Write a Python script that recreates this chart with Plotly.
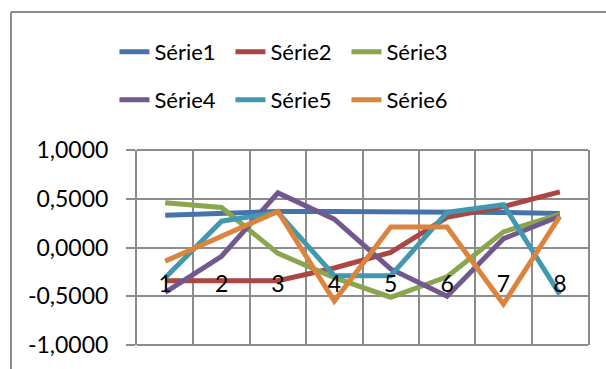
import plotly.graph_objects as go

categories = [1, 2, 3, 4, 5, 6, 7, 8]
cat_labels = ["1", "2", "3", "4", "5", "6", "7", "8"]
serie1 = [0.33, 0.35, 0.37, 0.37, 0.37, 0.37, 0.36, 0.35]
serie2 = [-0.34, -0.34, -0.34, -0.21, -0.05, 0.31, 0.42, 0.57]
serie3 = [0.46, 0.41, -0.06, -0.31, -0.51, -0.30, 0.16, 0.34]
serie4 = [-0.46, -0.09, 0.56, 0.29, -0.22, -0.50, 0.09, 0.32]
serie5 = [-0.31, 0.27, 0.36, -0.29, -0.29, 0.36, 0.44, -0.48]
serie6 = [-0.14, 0.12, 0.37, -0.55, 0.21, 0.21, -0.58, 0.32]
names = ["Série1", "Série2", "Série3", "Série4", "Série5", "Série6"]
y_tickvals = [-1.0, -0.5, 0.0, 0.5, 1.0]
y_ticktext = ["-1,0000", "-0,5000", "0,0000", "0,5000", "1,0000"]

colors = ["#4674AA", "#AA4643", "#89A54E", "#71588F", "#4198AF", "#DB843D"]
series = [serie1, serie2, serie3, serie4, serie5, serie6]

FONT = "Lato"
GRID = "#8C8C8C"

fig = go.Figure()
for i, (nm, vals) in enumerate(zip(names, series)):
    fig.add_trace(go.Scatter(
        x=categories, y=vals, mode="lines", name=nm,
        line=dict(color=colors[i], width=5),
        legend="legend" if i < 3 else "legend2",
    ))

boundaries = [c - 0.5 for c in categories] + [categories[-1] + 0.5]

legend_common = dict(orientation="h", xanchor="left", yanchor="middle",
                     font=dict(family=FONT, size=22), entrywidth=71,
                     entrywidthmode="pixels", itemwidth=30,
                     bgcolor="rgba(0,0,0,0)")

fig.update_layout(
    width=606, height=369,
    margin=dict(l=137, r=18, t=150, b=24),
    paper_bgcolor="white", plot_bgcolor="white",
    font=dict(family=FONT, size=22, color="black"),
    showlegend=True,
    legend=dict(x=-0.05, y=1.5026, **legend_common),
    legend2=dict(x=-0.05, y=1.2564, **legend_common),
    xaxis=dict(
        range=[0.5, 8.5], tickvals=categories, ticktext=cat_labels,
        showgrid=False, zeroline=False, showline=False, ticks="",
        anchor="free", position=0.395,
        tickfont=dict(family=FONT, size=23),
        minor=dict(tickvals=boundaries, showgrid=True, gridcolor=GRID, gridwidth=2),
        fixedrange=True,
    ),
    yaxis=dict(
        range=[-1, 1], tickvals=y_tickvals, ticktext=y_ticktext,
        showgrid=True, gridcolor=GRID, gridwidth=2, zeroline=False,
        showline=True, linecolor=GRID, linewidth=2, mirror=True,
        ticks="outside", ticklen=9, tickwidth=2, tickcolor=GRID,
        ticklabelstandoff=13,
        tickfont=dict(family=FONT, size=23),
    ),
    shapes=[
        dict(type="line", xref="paper", yref="paper", x0=-0.2794, x1=-0.2794,
             y0=-0.2, y1=1.7077, line=dict(color="#8C8C8C", width=2)),
        dict(type="line", xref="paper", yref="paper", x0=-0.2794, x1=1.1,
             y0=1.7077, y1=1.7077, line=dict(color="#8C8C8C", width=2)),
        dict(type="line", xref="paper", yref="paper", x0=0, x1=1,
             y0=0, y1=0, line=dict(color=GRID, width=2)),
        dict(type="line", xref="paper", yref="paper", x0=0, x1=1,
             y0=1, y1=1, line=dict(color=GRID, width=2)),
    ],
)

fig.write_html("out.html")
